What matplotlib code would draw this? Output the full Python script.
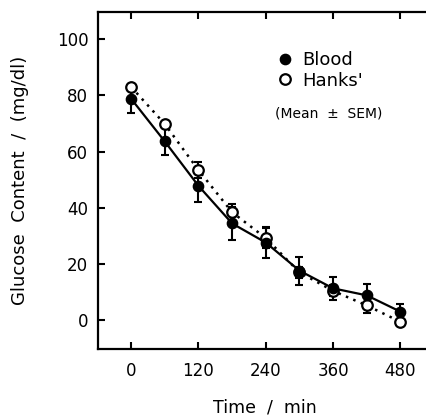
import numpy as np
import matplotlib
matplotlib.use('Agg')
import matplotlib.pyplot as plt
from matplotlib.lines import Line2D

plt.rcParams['font.family'] = ['DejaVu Sans']

# time points (min)
time = [0, 60, 120, 180, 240, 300, 360, 420, 480]

# glucose, blood
blood = [78.8, 63.6, 47.8, 34.4, 27.6, 17.6, 11.3, 8.8, 3.0]
blood_sem = [5.0, 4.8, 5.6, 6.0, 5.4, 5.0, 4.0, 4.0, 2.6]

# glucose, Hanks'
hanks = [83.0, 69.8, 53.4, 38.4, 29.2, 17.0, 10.4, 5.2, -0.6]
hanks_sem = [1.2, 1.2, 3.0, 3.0, 3.7, 2.0, 2.0, 2.6, 1.0]

x_ticks = [0, 120, 240, 360, 480]
y_ticks = [0, 20, 40, 60, 80, 100]

fig = plt.figure(figsize=(4.26, 4.19), dpi=100)
ax = fig.add_axes([0.230, 0.167, 0.785, 0.804])

ax.errorbar(time, blood, yerr=blood_sem, fmt='none', ecolor='black',
            elinewidth=1.5, capsize=3.2, capthick=1.5, zorder=2)
ax.errorbar(time, hanks, yerr=hanks_sem, fmt='none', ecolor='black',
            elinewidth=1.5, capsize=3.2, capthick=1.5, zorder=2)
ax.plot(time, blood, color='black', lw=1.6, ls='-', zorder=3)
ax.plot(time, hanks, color='black', lw=1.8, ls=(0, (1, 2.2)), zorder=3)
ax.plot(time, hanks, ls='none', marker='o', ms=7.6, mfc='white', mec='black',
        mew=1.6, zorder=4)
ax.plot(time, blood, ls='none', marker='o', ms=7.4, mfc='black', mec='black',
        zorder=5)

ax.set_xlim(-59, 537)
ax.set_ylim(-10.3, 109.6)
ax.set_xticks(x_ticks)
ax.set_yticks(y_ticks)
ax.tick_params(direction='in', length=5, width=1.5, top=True, right=False,
               labelsize=12)
ax.tick_params(axis='y', pad=7)
ax.tick_params(axis='x', pad=9)
for s in ax.spines.values():
    s.set_linewidth(1.6)
ax.spines['right'].set_visible(False)

ax.set_xlabel('Time  /  min', fontsize=12.5, labelpad=14)
ax.set_ylabel('Glucose  Content  /  (mg/dl)', fontsize=13, labelpad=20)

handles = [Line2D([], [], ls='none', marker='o', ms=7.4, mfc='black', mec='black'),
           Line2D([], [], ls='none', marker='o', ms=7.6, mfc='white', mec='black', mew=1.6)]
ax.legend(handles, ['Blood', "Hanks'"], loc='upper left',
          bbox_to_anchor=(0.515, 0.905), frameon=False, fontsize=13,
          handlelength=0.8, handletextpad=0.6, labelspacing=0.12,
          borderaxespad=0)
ax.text(0.69, 0.70, '(Mean  \u00b1  SEM)', transform=ax.transAxes,
        ha='center', va='center', fontsize=10)

fig.savefig('out.png', dpi=100)
